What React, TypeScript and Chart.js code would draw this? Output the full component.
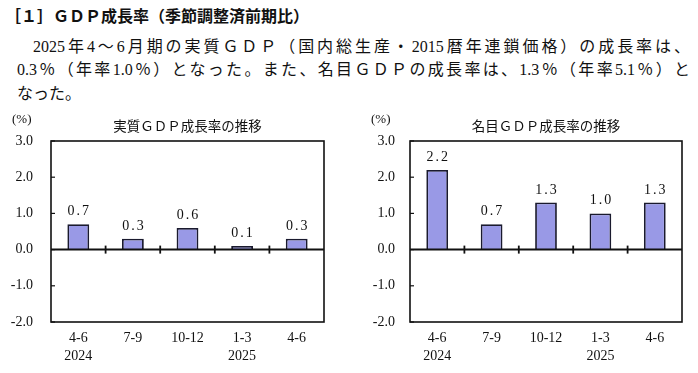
import React, { useEffect, useRef } from "react";
import { Chart, registerables } from "chart.js";

Chart.register(...registerables);

// ---- data ----
const categories: string[][] = [["4-6", "2024"], ["7-9", ""], ["10-12", ""], ["1-3", "2025"], ["4-6", ""]];
const realGrowth: number[] = [0.7, 0.3, 0.6, 0.1, 0.3];
const nominalGrowth: number[] = [2.2, 0.7, 1.3, 1.0, 1.3];
const yMin = -2;
const yMax = 3;
const yStep = 1;

const headerTitle = "［１］ＧＤＰ成長率（季節調整済前期比）";
const bodyLine1 = "2025年4～6月期の実質ＧＤＰ（国内総生産・2015暦年連鎖価格）の成長率は、";
const bodyLine2 = "0.3％（年率1.0％）となった。また、名目ＧＤＰの成長率は、1.3％（年率5.1％）と";
const bodyLine3 = "なった。";

const SERIF = '"Liberation Serif", "DejaVu Serif", "Noto Sans CJK JP", serif';
const GOTHIC = '"Noto Sans CJK JP", "Noto Sans", sans-serif';

type Props = {
  title: string;
  values: number[];
  width: number;
  height: number;
  plotLeft: number;
  plotRight: number;
  unitX: number;
  labelPad: number;
};

function GrowthChart({ title, values, width, height, plotLeft, plotRight, unitX, labelPad }: Props) {
  const ref = useRef<HTMLCanvasElement | null>(null);
  useEffect(() => {
    if (!ref.current) return;
    const decor = {
      id: "decor",
      afterDatasetsDraw(chart: any) {
        const { ctx, chartArea, scales } = chart;
        const { left, right, top, bottom } = chartArea;
        const x = scales.x;
        const y = scales.y;
        ctx.save();
        ctx.strokeStyle = "#111";
        // frame
        ctx.lineWidth = 1.6;
        ctx.strokeRect(left, top, right - left, bottom - top);
        // inward y ticks
        ctx.lineWidth = 1.2;
        y.ticks.forEach((t: any) => {
          const py = y.getPixelForValue(t.value);
          ctx.beginPath();
          ctx.moveTo(left, py);
          ctx.lineTo(left + 4, py);
          ctx.stroke();
        });
        // zero line
        const y0 = y.getPixelForValue(0);
        ctx.lineWidth = 2;
        ctx.beginPath();
        ctx.moveTo(left, y0);
        ctx.lineTo(right, y0);
        ctx.stroke();
        // category boundary ticks
        ctx.lineWidth = 1.8;
        for (let i = 1; i < values.length; i++) {
          const xb = (x.getPixelForValue(i - 1) + x.getPixelForValue(i)) / 2;
          ctx.beginPath();
          ctx.moveTo(xb, y0 - 4);
          ctx.lineTo(xb, y0 + 4);
          ctx.stroke();
        }
        // value labels
        ctx.fillStyle = "#111";
        ctx.font = `14px ${SERIF}`;
        ctx.textAlign = "center";
        ctx.textBaseline = "alphabetic";
        try { (ctx as any).letterSpacing = "2px"; } catch (e) {}
        const meta = chart.getDatasetMeta(0);
        meta.data.forEach((bar: any, i: number) => {
          ctx.fillText(values[i].toFixed(1), bar.x + 1, bar.y - 9);
        });
        try { (ctx as any).letterSpacing = "0px"; } catch (e) {}
        // title
        ctx.font = `13.5px ${GOTHIC}`;
        ctx.textBaseline = "middle";
        ctx.fillText(title, (left + right) / 2, 26);
        // unit
        ctx.font = `13px ${SERIF}`;
        ctx.textAlign = "left";
        ctx.fillText("(%)", unitX, 20);
        ctx.restore();
      },
    };
    const chart = new Chart(ref.current, {
      type: "bar",
      data: {
        labels: categories,
        datasets: [
          {
            data: values,
            backgroundColor: "#9999E6",
            borderColor: "#1a1a2e",
            borderWidth: 1.8,
            barPercentage: 0.4,
            categoryPercentage: 1,
          },
        ],
      },
      options: {
        responsive: false,
        animation: false,
        layout: { padding: { left: 0, top: 41, right: width - plotRight, bottom: 0 } },
        plugins: { legend: { display: false }, tooltip: { enabled: false }, title: { display: false } },
        scales: {
          x: {
            grid: { display: false, drawTicks: false },
            border: { display: false },
            ticks: {
              color: "#111",
              font: { family: SERIF, size: 14, lineHeight: 1.3 },
              padding: 7,
              maxRotation: 0,
              autoSkip: false,
            },
            afterFit: (s: any) => {
              s.height = height - 222;
            },
          },
          y: {
            min: yMin,
            max: yMax,
            grid: { display: false, drawTicks: false },
            border: { display: false },
            ticks: {
              stepSize: yStep,
              color: "#111",
              font: { family: SERIF, size: 14 },
              padding: labelPad,
              callback: (v: any) => Number(v).toFixed(1),
            },
            afterFit: (s: any) => {
              s.width = plotLeft;
            },
          },
        },
      },
      plugins: [decor],
    });
    return () => chart.destroy();
  }, []);
  return <canvas ref={ref} width={width} height={height} style={{ width, height, display: "block" }} />;
}

export default function App() {
  const lineStyle: React.CSSProperties = {
    position: "absolute",
    fontFamily: SERIF,
    fontSize: 16,
    lineHeight: "20px",
    whiteSpace: "nowrap",
    color: "#111",
  };
  return (
    <div style={{ position: "absolute", left: 0, top: 0, width: 698, height: 373, background: "#fff", overflow: "hidden" }}>
      <div style={{ ...lineStyle, left: 5, top: 5, fontFamily: GOTHIC, fontWeight: 700 }}>{headerTitle}</div>
      <div style={{ ...lineStyle, left: 33, top: 37, width: 657, textAlign: "justify", textAlignLast: "justify" as any }}>{bodyLine1}</div>
      <div style={{ ...lineStyle, left: 17, top: 60, width: 673, textAlign: "justify", textAlignLast: "justify" as any }}>{bodyLine2}</div>
      <div style={{ ...lineStyle, left: 17, top: 84 }}>{bodyLine3}</div>
      <div style={{ position: "absolute", left: 0, top: 100 }}>
        <GrowthChart title="実質ＧＤＰ成長率の推移" values={realGrowth} width={345} height={273} plotLeft={51} plotRight={324} unitX={12} labelPad={18} />
      </div>
      <div style={{ position: "absolute", left: 345, top: 100 }}>
        <GrowthChart title="名目ＧＤＰ成長率の推移" values={nominalGrowth} width={353} height={273} plotLeft={65} plotRight={337} unitX={26} labelPad={15} />
      </div>
    </div>
  );
}
